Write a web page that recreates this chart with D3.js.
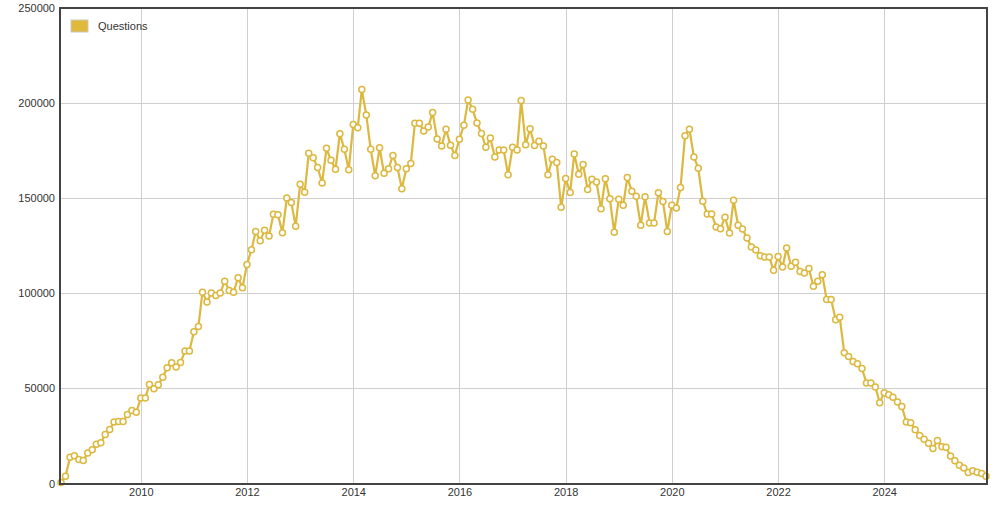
<!DOCTYPE html>
<html>
<head>
<meta charset="utf-8">
<script src="https://cdn.jsdelivr.net/npm/d3@7"></script>
<style>
  html, body { margin: 0; padding: 0; background: #fff; }
  svg { display: block; font-family: "Liberation Sans", Arial, Helvetica, sans-serif; }
</style>
</head>
<body>
<div id="chart"></div>
<script>
// monthly question counts, starting July 2008
var firstMonth = "2008-07";
var questions = [
    500, 3800, 13800, 14600, 12600, 12100,
    16000, 17700, 20700, 21400, 25800, 28400, 32300, 32600, 32600, 36300, 38400, 37500,
    44900, 44900, 52100, 49800, 51900, 55900, 60800, 63500, 61200, 63600, 69600, 69600,
    79800, 82600, 100600, 95400, 100100, 98900, 100100, 106400, 101500, 100600, 108200, 102900,
    115200, 122900, 132500, 127600, 133100, 130100, 141500, 141300, 131900, 150100, 147800, 135200,
    157400, 153100, 173600, 171300, 166100, 158000, 176200, 169900, 165200, 183900, 175700, 165000,
    188700, 187100, 207100, 193700, 175700, 161800, 176500, 163100, 165500, 172500, 166100, 155000,
    165500, 168200, 189400, 189400, 185300, 187400, 195100, 181100, 177500, 186300, 177900, 172500,
    181000, 188300, 201600, 196800, 189500, 184000, 176800, 181700, 171600, 175300, 175300, 162300,
    176800, 175300, 201400, 178100, 186500, 177700, 180000, 177500, 162300, 170500, 168800, 145300,
    160400, 153000, 173300, 162600, 167700, 154600, 159900, 158500, 144400, 160200, 149700, 132100,
    149500, 146300, 160900, 153700, 151000, 135800, 150700, 137000, 137000, 152800, 148300, 132500,
    146300, 144900, 155600, 182800, 186300, 171700, 165800, 148400, 141700, 141700, 134900, 134000,
    140000, 131700, 148900, 135800, 133800, 129100, 124400, 122800, 119800, 119100, 119100, 112100,
    119300, 113800, 123800, 114200, 116300, 111400, 110700, 113000, 103700, 106300, 109800, 96700,
    96700, 86100, 87400, 68800, 66800, 64200, 63000, 60400, 52900, 52800, 50700, 42500,
    47700, 46700, 45400, 42800, 40500, 32300, 31900, 28300, 25300, 23300, 21200, 18400,
    22600, 19300, 19100, 14400, 11900, 9600, 8100, 5800, 6700, 5900, 5300, 3800
];
var yTicks = [0, 50000, 100000, 150000, 200000, 250000];
var xTickYears = [2010, 2012, 2014, 2016, 2018, 2020, 2022, 2024];
var seriesName = "Questions";

var width = 1001;
var height = 509;
var frame = { left: 60, right: 987, top: 8, bottom: 484 };
var lineColor = "#dcb83f";

var start = d3.timeParse("%Y-%m")(firstMonth);
var data = questions.map(function(v, i) {
    return { date: d3.timeMonth.offset(start, i), value: v };
});

var x = d3.scaleTime()
    .domain(d3.extent(data, function(d) { return d.date; }))
    .range([61, 986]);

var y = d3.scaleLinear()
    .domain([0, 250000])
    .range([483.5, 8]);

var svg = d3.select('#chart')
    .append('svg')
    .attr('width', width)
    .attr('height', height);

// grid
svg.append('g')
    .selectAll('line')
    .data(yTicks)
    .enter()
    .append('line')
    .attr('x1', frame.left)
    .attr('x2', frame.right)
    .attr('y1', function(d) { return Math.round(y(d)) + 0.5; })
    .attr('y2', function(d) { return Math.round(y(d)) + 0.5; })
    .style('stroke', '#cfcfcf')
    .style('stroke-width', 1);

var xTickDates = xTickYears.map(function(yr) { return new Date(yr, 0, 1); });

svg.append('g')
    .selectAll('line')
    .data(xTickDates)
    .enter()
    .append('line')
    .attr('x1', function(d) { return Math.round(x(d)) + 0.5; })
    .attr('x2', function(d) { return Math.round(x(d)) + 0.5; })
    .attr('y1', frame.top)
    .attr('y2', frame.bottom)
    .style('stroke', '#cfcfcf')
    .style('stroke-width', 1);

// axis labels
var yAxis = d3.axisLeft(y).tickValues(yTicks).tickSize(0).tickPadding(5).tickFormat(d3.format('d'));
var yg = svg.append('g')
    .attr('transform', 'translate(' + frame.left + ',0)')
    .call(yAxis);

var xAxis = d3.axisBottom(x).tickValues(xTickDates).tickSize(0).tickPadding(4).tickFormat(d3.timeFormat('%Y'));
var xg = svg.append('g')
    .attr('transform', 'translate(0,' + frame.bottom + ')')
    .call(xAxis);

[yg, xg].forEach(function(g) {
    g.select('.domain').remove();
    g.selectAll('text')
        .style('font-size', '11px')
        .style('fill', '#333');
});

// series
var line = d3.line()
    .x(function(d) { return x(d.date); })
    .y(function(d) { return y(d.value); });

svg.append('path')
    .datum(data)
    .attr('d', line)
    .style('fill', 'none')
    .style('stroke', lineColor)
    .style('stroke-width', 2.2)
    .style('stroke-linejoin', 'round');

svg.append('g')
    .selectAll('circle')
    .data(data)
    .enter()
    .append('circle')
    .attr('cx', function(d) { return x(d.date); })
    .attr('cy', function(d) { return y(d.value); })
    .attr('r', 3)
    .style('fill', '#fff')
    .style('stroke', lineColor)
    .style('stroke-width', 1.5);

// frame
svg.append('rect')
    .attr('x', frame.left)
    .attr('y', frame.top)
    .attr('width', frame.right - frame.left)
    .attr('height', frame.bottom - frame.top)
    .style('fill', 'none')
    .style('stroke', '#444')
    .style('stroke-width', 2);

// legend
var legend = svg.append('g').attr('transform', 'translate(71,20)');
legend.append('rect')
    .attr('width', 17)
    .attr('height', 12)
    .style('fill', '#e0b93a')
    .style('stroke', '#c9c9c9')
    .style('stroke-width', 1);
legend.append('text')
    .attr('x', 27)
    .attr('y', 10)
    .style('font-size', '11px')
    .style('fill', '#333')
    .text(seriesName);
</script>
</body>
</html>
